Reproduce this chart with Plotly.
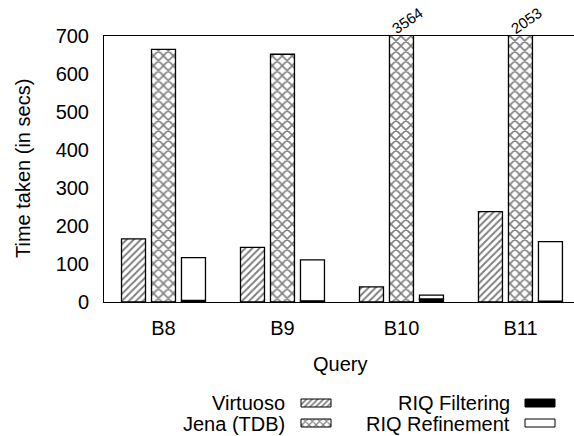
import plotly.graph_objects as go

queries = ["B8", "B9", "B10", "B11"]
virtuoso = [166, 144, 40, 238]
jena = [665, 652, 3564, 2053]
riq_filtering = [4, 3, 8, 2]
riq_refinement = [113, 108, 10, 157]

FONT = "Liberation Sans, Arial, Helvetica, sans-serif"
W, H = 574, 436
ML, MR, MT, MB = 104, 0, 36, 0
PLOT_BOTTOM_PX = 302

def px_x(px):
    return (px - ML) / (W - ML - MR)

def px_y(py):
    return (H - MB - py) / (H - MT - MB)

fig = go.Figure()
line = dict(color="black", width=1.3)

fig.add_trace(go.Bar(x=queries, y=virtuoso, name="Virtuoso", offsetgroup="1",
                     marker=dict(color="white", line=line,
                                 pattern=dict(shape="/", fgcolor="black", bgcolor="white", size=5, solidity=0.4)),
                     showlegend=False))
fig.add_trace(go.Bar(x=queries, y=jena, name="Jena (TDB)", offsetgroup="2",
                     marker=dict(color="white", line=line,
                                 pattern=dict(shape="x", fgcolor="black", bgcolor="white", size=7, solidity=0.4)),
                     showlegend=False))
fig.add_trace(go.Bar(x=queries, y=riq_filtering, name="RIQ Filtering", offsetgroup="3",
                     marker=dict(color="black", line=line), showlegend=False))
fig.add_trace(go.Bar(x=queries, y=riq_refinement, base=riq_filtering, name="RIQ Refinement", offsetgroup="3",
                     marker=dict(color="white", line=line), showlegend=False))

# Labels for clipped Jena bars
for q, v in zip(queries, jena):
    if v > 700:
        fig.add_annotation(x=q, xref="x", y=px_y(21), yref="paper", text=str(v),
                           showarrow=False, textangle=-35, xshift=6,
                           xanchor="center", yanchor="middle",
                           font=dict(family=FONT, size=15, color="black"))

# Custom legend (text then swatch)
legend_names = ["Virtuoso", "Jena (TDB)", "RIQ Filtering", "RIQ Refinement"]
legend_text_x = [287, 287, 512, 512]
legend_row_y = [403, 424, 403, 424]
swatch_left = [301, 301, 525, 525]
swatch_top = [399, 419, 399, 419]
fills = [
    dict(fillcolor="white", fillpattern=dict(shape="/", fgcolor="black", bgcolor="white", size=4, solidity=0.45)),
    dict(fillcolor="white", fillpattern=dict(shape="x", fgcolor="black", bgcolor="white", size=5, solidity=0.4)),
    dict(fillcolor="black"),
    dict(fillcolor="white"),
]
for name, tx, ty, sl, st, fl in zip(legend_names, legend_text_x, legend_row_y, swatch_left, swatch_top, fills):
    fig.add_annotation(x=px_x(tx), xref="paper", y=px_y(ty), yref="paper", text=name,
                       showarrow=False, xanchor="right", yanchor="middle",
                       font=dict(family=FONT, size=20, color="black"))
    fig.add_trace(go.Scatter(x=[sl, sl + 30, sl + 30, sl, sl], y=[st, st, st + 8, st + 8, st],
                             mode="lines", fill="toself", line=dict(color="black", width=1),
                             xaxis="x2", yaxis="y2", showlegend=False, hoverinfo="skip", **fl))

# Axis titles
fig.add_annotation(x=px_x(23), xref="paper", y=px_y(169), yref="paper", text="Time taken (in secs)",
                   showarrow=False, textangle=-90, xanchor="center", yanchor="middle",
                   font=dict(family=FONT, size=20, color="black"))
fig.add_annotation(x=px_x(340), xref="paper", y=px_y(364), yref="paper", text="Query",
                   showarrow=False, xanchor="center", yanchor="middle",
                   font=dict(family=FONT, size=20, color="black"))

fig.update_layout(
    width=W, height=H,
    margin=dict(l=ML, r=MR, t=MT, b=MB, autoexpand=False),
    paper_bgcolor="white", plot_bgcolor="rgba(0,0,0,0)",
    barmode="group", bargap=0.244, bargroupgap=0.2,
    font=dict(family=FONT, size=20, color="black"),
    xaxis=dict(domain=[0, 1], range=[-0.5, 3.45], showline=True, linecolor="black", linewidth=1,
               mirror=True, ticks="", showgrid=False, zeroline=False, ticklabelstandoff=8,
               automargin=False, tickfont=dict(family=FONT, size=20, color="black")),
    yaxis=dict(domain=[px_y(PLOT_BOTTOM_PX), 1], range=[0, 700], dtick=100, showline=True,
               linecolor="black", linewidth=1, ticks="", showgrid=False, zeroline=False,
               ticklabelstandoff=10, automargin=False, tickfont=dict(family=FONT, size=20, color="black")),
    xaxis2=dict(domain=[0, 1], range=[ML, W - MR], visible=False, anchor="y2", automargin=False),
    yaxis2=dict(domain=[0, 1], range=[H - MB, MT], visible=False, anchor="x2", automargin=False),
)

fig.write_html("out.html", config={"displayModeBar": False},
               post_script="document.body.style.margin='0';")
